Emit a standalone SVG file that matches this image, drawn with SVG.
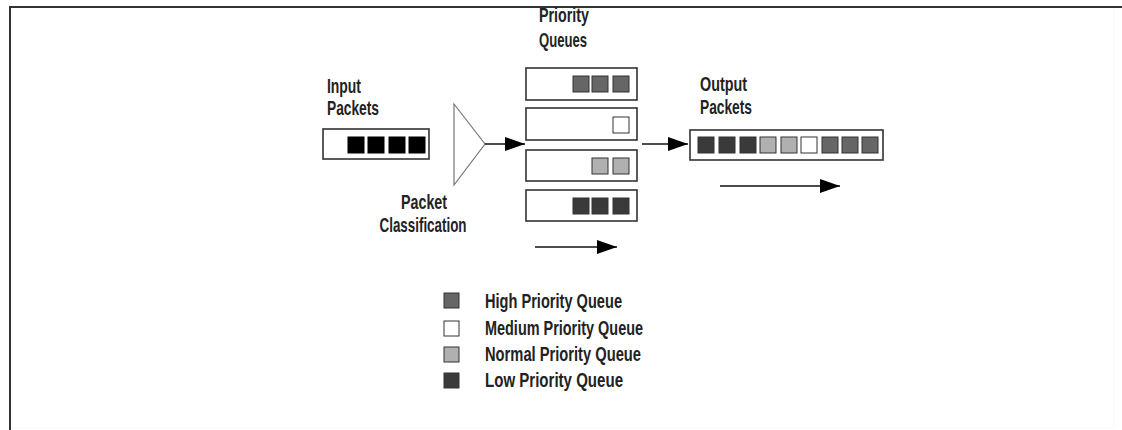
<svg xmlns="http://www.w3.org/2000/svg" width="1122" height="430" viewBox="0 0 1122 430">
  <style>
    .lbl { font-family: "Liberation Sans", Arial, sans-serif; font-size: 21px; font-weight: bold; fill: #222; }
    .box { fill: #fff; stroke: #333; stroke-width: 1.6; }
    .pk { stroke: #333; stroke-width: 1; }
    .in { fill: #000; stroke: #000; }
    .hi { fill: #666; }
    .md { fill: #fff; }
    .nm { fill: #b0b0b0; }
    .lo { fill: #3a3a3a; }
    .conn { stroke: #111; stroke-width: 1.6; fill: none; marker-end: url(#head); }
  </style>
  <defs>
    <marker id="head" markerUnits="userSpaceOnUse" markerWidth="20" markerHeight="14" refX="20" refY="7" orient="auto">
      <path d="M0,0 L20,7 L0,14 z" fill="#000"/>
    </marker>
  </defs>

  <rect width="1122" height="430" fill="#fff"/>
  <!-- page frame -->
  <path d="M10,430 V7 H1122" fill="none" stroke="#333" stroke-width="2"/>
  <path d="M1114,9 V428 H12" fill="none" stroke="#f6f6f6" stroke-width="1"/>

  <!-- incoming packets -->
  <g id="input-packets">
    <text class="lbl" x="327" y="93" textLength="34" lengthAdjust="spacingAndGlyphs">Input</text>
    <text class="lbl" x="327" y="115" textLength="52" lengthAdjust="spacingAndGlyphs">Packets</text>
    <rect class="box" x="323" y="129" width="106" height="30"/>
    <rect class="pk in" x="348" y="137" width="16" height="16"/>
    <rect class="pk in" x="368" y="137" width="16" height="16"/>
    <rect class="pk in" x="389" y="137" width="16" height="16"/>
    <rect class="pk in" x="409" y="137" width="16" height="16"/>
  </g>

  <!-- classifier -->
  <g id="classifier">
    <polygon points="454,104 485,144 454,185" fill="#fff" stroke="#777" stroke-width="1.2"/>
    <text class="lbl" x="424" y="209" text-anchor="middle" textLength="46" lengthAdjust="spacingAndGlyphs">Packet</text>
    <text class="lbl" x="423" y="232" text-anchor="middle" textLength="87" lengthAdjust="spacingAndGlyphs">Classification</text>
  </g>

  <!-- priority queues -->
  <g id="priority-queues">
    <text class="lbl" x="539" y="22" textLength="50" lengthAdjust="spacingAndGlyphs">Priority</text>
    <text class="lbl" x="539" y="47" textLength="48" lengthAdjust="spacingAndGlyphs">Queues</text>
    <g id="queue-high">
      <rect class="box" x="526" y="68" width="111" height="32"/>
      <rect class="pk hi" x="573" y="76" width="16" height="16"/>
      <rect class="pk hi" x="592" y="76" width="16" height="16"/>
      <rect class="pk hi" x="613" y="76" width="16" height="16"/>
    </g>
    <g id="queue-medium">
      <rect class="box" x="526" y="108" width="111" height="32"/>
      <rect class="pk md" x="613" y="117" width="16" height="16"/>
    </g>
    <g id="queue-normal">
      <rect class="box" x="526" y="150" width="111" height="31"/>
      <rect class="pk nm" x="592" y="158" width="16" height="16"/>
      <rect class="pk nm" x="613" y="158" width="16" height="16"/>
    </g>
    <g id="queue-low">
      <rect class="box" x="526" y="190" width="111" height="31"/>
      <rect class="pk lo" x="573" y="198" width="16" height="16"/>
      <rect class="pk lo" x="592" y="198" width="16" height="16"/>
      <rect class="pk lo" x="613" y="198" width="16" height="16"/>
    </g>
  </g>

  <!-- outgoing packets -->
  <g id="output-packets">
    <text class="lbl" x="700" y="91" textLength="47" lengthAdjust="spacingAndGlyphs">Output</text>
    <text class="lbl" x="700" y="114" textLength="52" lengthAdjust="spacingAndGlyphs">Packets</text>
    <rect class="box" x="690" y="130" width="193" height="30"/>
    <rect class="pk lo" x="698" y="137" width="16" height="16"/>
    <rect class="pk lo" x="719" y="137" width="16" height="16"/>
    <rect class="pk lo" x="740" y="137" width="16" height="16"/>
    <rect class="pk nm" x="760" y="137" width="16" height="16"/>
    <rect class="pk nm" x="781" y="137" width="16" height="16"/>
    <rect class="pk md" x="801" y="137" width="16" height="16"/>
    <rect class="pk hi" x="822" y="137" width="16" height="16"/>
    <rect class="pk hi" x="842" y="137" width="16" height="16"/>
    <rect class="pk hi" x="862" y="137" width="16" height="16"/>
  </g>

  <!-- legend -->
  <g id="legend">
    <rect class="pk hi" x="444" y="293" width="15" height="15"/>
    <rect class="pk md" x="444" y="321" width="15" height="15"/>
    <rect class="pk nm" x="444" y="347" width="15" height="15"/>
    <rect class="pk lo" x="444" y="373" width="15" height="15"/>
    <text class="lbl" x="485" y="308" textLength="137" lengthAdjust="spacingAndGlyphs">High Priority Queue</text>
    <text class="lbl" x="485" y="335" textLength="158" lengthAdjust="spacingAndGlyphs">Medium Priority Queue</text>
    <text class="lbl" x="485" y="361" textLength="156" lengthAdjust="spacingAndGlyphs">Normal Priority Queue</text>
    <text class="lbl" x="485" y="387" textLength="138" lengthAdjust="spacingAndGlyphs">Low Priority Queue</text>
  </g>

  <!-- flow arrows -->
  <g id="connectors">
    <line class="conn" x1="485" y1="144" x2="525" y2="144"/>
    <line class="conn" x1="642" y1="144" x2="688" y2="144"/>
    <line class="conn" x1="535" y1="247" x2="617" y2="247"/>
    <line class="conn" x1="720" y1="186" x2="840" y2="186"/>
  </g>
</svg>
